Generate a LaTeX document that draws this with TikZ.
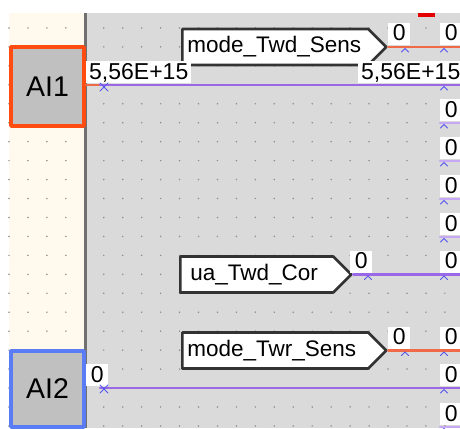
\documentclass[tikz,border=0pt]{standalone}
\usepackage{fontspec}
\setmainfont{Liberation Sans}
\usetikzlibrary{shapes.symbols}

\definecolor{crema}{HTML}{FFF9EE}
\definecolor{fondo}{HTML}{DADADA}
\definecolor{divisore}{HTML}{707070}
\definecolor{grigiobox}{HTML}{C0C0C0}
\definecolor{arancio}{HTML}{FF4D12}
\definecolor{arancioTenue}{HTML}{F06A48}
\definecolor{blu}{HTML}{5A7DF5}
\definecolor{viola}{HTML}{9A68E6}
\definecolor{violachiaro}{HTML}{C7A8F4}
\definecolor{segno}{HTML}{5555F0}
\definecolor{punto}{HTML}{8E8E8E}
\definecolor{bordo}{HTML}{333333}

\newcommand{\valfont}{\fontsize{23}{26}\selectfont}
\newcommand{\tagfont}{\fontsize{22.5}{26}\selectfont}
\newcommand{\boxfont}{\fontsize{28.5}{32}\selectfont}

\tikzset{
  ingresso/.style={draw,line width=3.6pt,fill=grigiobox,minimum width=73pt,
    inner sep=0pt,font=\boxfont},
  etichetta/.style={signal,signal to=east,signal pointer angle=90,draw=bordo,
    fill=white,line width=2.6pt,minimum height=36pt,inner ysep=2pt,anchor=west,
    align=left,font=\tagfont},
  valore/.style={fill=white,inner xsep=3pt,inner ysep=1pt,text height=17pt,
    text depth=3pt,minimum width=22pt,anchor=base west,font=\valfont},
  filo/.style={line width=2.4pt,viola},
  filochiaro/.style={line width=2.4pt,violachiaro},
  filoar/.style={line width=2.4pt,arancioTenue},
  segnino/.style={segno,line width=1pt},
}

\begin{document}
\begin{tikzpicture}[x=1pt,y=-1pt,line join=round,line cap=round]

  \useasboundingbox (0,0) rectangle (460,428);
  \clip (0,0) rectangle (460,428);

  % ---- fondo: striscia crema, area grigia e divisore -------------------------
  \fill[crema] (9,13) rectangle (85,428);
  \fill[fondo] (85,13) rectangle (460,428);
  \draw[divisore,line width=3pt,line cap=butt] (85,13) -- (85,428);
  \fill[red!90!black] (418,13) rectangle (435,17);

  % ---- la griglia di puntini ------------------------------------------------
  \foreach \i in {0,1,2,3,5,6,...,23}{
    \foreach \j in {1,...,22}{
      \fill[punto] ({9+18.95*\i},{9+18.95*\j}) circle (0.85pt);
    }
  }

  % ---- i due ingressi analogici ---------------------------------------------
  \node[ingresso,draw=arancio,minimum height=79pt] (ai1) at (47.5,86.5) {AI1};
  \node[ingresso,draw=blu,minimum height=76pt] (ai2) at (47.5,389) {AI2};

  % ---- le etichette dei segnali ---------------------------------------------
  \node[etichetta,inner xsep=5pt,text width=176pt] (twdsens) at (181,47) {mode\_Twd\_Sens};
  \node[etichetta,inner xsep=10pt,text width=133pt] (twdcor) at (179,274.5) {ua\_Twd\_Cor};
  \node[etichetta,inner xsep=5pt,text width=176pt] (twrsens) at (181,350.5) {mode\_Twr\_Sens};

  % ---- i fili ---------------------------------------------------------------
  \coordinate (a1) at (100,85);
  \coordinate (a9) at (100,388);
  \foreach \r/\y in {0/47,1/85,2/123,3/161,4/199,5/237,6/274.5,8/350.5,9/388,10/427}{
    \coordinate (s\r) at (440,\y);
    \coordinate (f\r) at (460,\y);
  }
  \draw[filoar] (ai1.east |- a1) -- (a1);
  \draw[filo] (a1) -- (f1);
  \draw[filo] (a9) -- (f9);
  \draw[filoar] (twdsens.east) -- (f0);
  \draw[filo] (twdcor.east) -- (f6);
  \draw[filoar] (twrsens.east) -- (f8);
  \foreach \r in {2,3,4,5,10}{
    \draw[filochiaro] (s\r) -- (f\r);
  }

  % ---- i valori -------------------------------------------------------------
  \node[valore,minimum width=104pt] (v1a) at (86,79) {5,56E+15};
  \node[valore,minimum width=104pt] (v1b) at (358,79) {5,56E+15};
  \node[valore] (v0a) at (388,41) {0};
  \node[valore] (v6a) at (350,268.5) {0};
  \node[valore] (v8a) at (388,344.5) {0};
  \node[valore] (v9a) at (86,382) {0};
  \foreach \r/\y in {0/47,2/123,3/161,4/199,5/237,6/274.5,8/350.5,9/388,10/427}{
    \node[valore] (v\r) at (440,\y-6) {0};
  }

  % ---- i segnini di collegamento --------------------------------------------
  \foreach \px/\py in {405/47,444/47,444/85,444/123,444/161,444/199,444/237,
                       368/274.5,444/274.5,405/350.5,444/350.5,444/388,444/427}{
    \draw[segnino] ({\px-3.5},{\py+5}) -- ({\px},{\py+1.5}) -- ({\px+3.5},{\py+5});
  }
  \foreach \px/\py in {104/87,104/389}{
    \draw[segnino]
      ({\px-4},{\py-4}) -- ({\px+4},{\py+4})
      ({\px-4},{\py+4}) -- ({\px+4},{\py-4});
  }

\end{tikzpicture}
\end{document}
